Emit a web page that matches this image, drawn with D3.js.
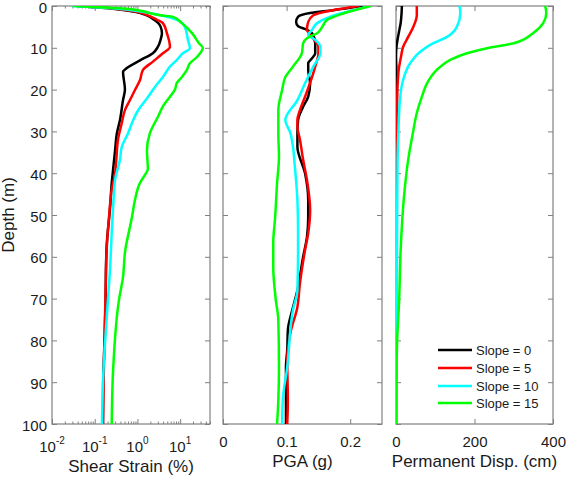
<!DOCTYPE html>
<html><head><meta charset="utf-8">
<script src="https://cdn.jsdelivr.net/npm/d3@7"></script>
<style>
body{margin:0;background:#fff}
text{font-family:"Liberation Sans",Arial,Helvetica,sans-serif;fill:#1a1a1a}
</style>
</head><body>
<svg id="chart" width="567" height="477"></svg>
<script>
// ---------------- DATA ----------------
const seriesNames = ["Slope = 0", "Slope = 5", "Slope = 10", "Slope = 15"];
const depthTicks = [0, 10, 20, 30, 40, 50, 60, 70, 80, 90, 100];
const strainTicks = [0.01, 0.1, 1, 10];
const strainTickExp = ["-2", "-1", "0", "1"];
const pgaTicks = [0, 0.1, 0.2];
const pgaTickLabels = ["0", "0.1", "0.2"];
const dispTicks = [0, 200, 400];
const dispTickLabels = ["0", "200", "400"];

// Shear strain (%) : [depth (m), strain]
const strainSlope0 = [[0,0.04],[0.7,0.3],[1.5,1.0],[2.2,1.6],[3.2,2.4],[4,3.0],[5,3.5],[6.5,3.75],[8,3.5],[9.8,3.0],[11.3,2.3],[13,1.15],[15.2,0.51],[15.7,0.46],[20,0.51],[22.5,0.46],[27.3,0.39],[30.5,0.33],[34.5,0.30],[39,0.27],[42.4,0.25],[48,0.23],[57.6,0.19],[61,0.185],[70,0.18],[80,0.17],[90,0.158],[100,0.156]];
const strainSlope5 = [[0,0.045],[0.7,0.35],[1.5,1.1],[2.2,1.7],[3.3,2.86],[4.1,3.95],[6.5,4.9],[9.8,5.77],[11.3,3.95],[13.3,2.31],[15.3,1.35],[17.7,1.15],[20.1,0.875],[22.5,0.668],[24.9,0.51],[28,0.43],[32,0.35],[36.8,0.32],[40,0.30],[44,0.25],[50.5,0.216],[58.4,0.19],[68,0.18],[84.7,0.165],[100,0.156]];
const strainSlope10 = [[0,0.03],[0.6,0.3],[1.4,1.3],[2.2,3.5],[3.3,8.4],[5,12.9],[8.1,15.2],[10.1,16.9],[11.3,11.6],[12.9,8.4],[14.5,5.77],[17,3.95],[19.3,2.6],[22,1.7],[25,1.03],[27.5,0.78],[30.5,0.6],[33.7,0.43],[36.8,0.39],[41.6,0.30],[48,0.27],[54.3,0.25],[62.4,0.23],[70.3,0.204],[90,0.156],[100,0.148]];
const strainSlope15 = [[0,0.032],[0.5,0.33],[1.2,1.3],[1.7,1.96],[2.2,3.37],[2.6,6.8],[4.1,11],[6.5,19],[8.9,27.5],[10,34],[12.2,24.7],[13.7,16.9],[15.3,14.4],[17,11.0],[18.4,8.4],[20,7.55],[21.7,5.77],[24,3.95],[26.5,3.02],[30.4,1.96],[34.5,1.67],[39,1.76],[40.4,1.5],[42.3,1.15],[46.4,0.875],[50.5,0.745],[59,0.51],[64.8,0.46],[70.3,0.37],[87,0.27],[100,0.25]];

// PGA (g) : [depth (m), pga]
const pgaSlope0 = [[0,0.219],[1,0.173],[1.7,0.137],[2.6,0.118],[3.8,0.115],[4.8,0.118],[5.7,0.132],[6.5,0.140],[8.9,0.145],[11.3,0.145],[12.5,0.140],[13.7,0.134],[15.3,0.134],[18.5,0.137],[21.7,0.134],[24.1,0.126],[27.3,0.118],[30.4,0.117],[33.7,0.117],[40,0.129],[46.4,0.134],[50.5,0.134],[55.3,0.132],[60,0.126],[68,0.117],[72.7,0.109],[77.5,0.102],[82.3,0.101],[86.4,0.099],[100,0.099]];
const pgaSlope5 = [[0,0.213],[1,0.173],[2.2,0.142],[3.8,0.134],[5.7,0.132],[6.9,0.137],[9.8,0.150],[11.3,0.150],[14.5,0.145],[17,0.140],[21.7,0.129],[24.9,0.121],[27.3,0.117],[28.9,0.117],[32,0.121],[36.8,0.126],[41.6,0.132],[48.8,0.137],[54.3,0.134],[58.4,0.129],[66.3,0.121],[72,0.117],[78.2,0.106],[84.7,0.101],[94.3,0.102],[100,0.101]];
const pgaSlope10 = [[0,0.231],[1.4,0.195],[2.6,0.168],[4.1,0.148],[5.7,0.140],[6.9,0.134],[8.1,0.145],[9.8,0.153],[11.3,0.153],[14.5,0.142],[18.5,0.129],[22.5,0.117],[27.3,0.098],[30.4,0.106],[33.7,0.110],[38.5,0.113],[46.4,0.117],[53.6,0.118],[58.4,0.118],[68,0.117],[72.7,0.110],[86.4,0.101],[94.3,0.094],[100,0.093]];
const pgaSlope15 = [[0,0.232],[1.8,0.189],[3.3,0.164],[5,0.156],[6.5,0.148],[7.7,0.132],[8.9,0.126],[11.3,0.124],[14.5,0.110],[17,0.098],[20.1,0.093],[24.9,0.087],[30.4,0.087],[36,0.088],[42.4,0.085],[50.5,0.082],[56.7,0.079],[62.4,0.079],[70.3,0.083],[75.1,0.087],[86.4,0.088],[94.3,0.087],[100,0.085]];

// Permanent displacement (cm) : [depth (m), disp]
const dispSlope0 = [[0,15],[2,14],[4,12],[6,8],[8,4],[10,1],[12,0],[15,1],[20,2],[30,1.5],[50,0.5],[100,0]];
const dispSlope5 = [[0,53],[2.2,53],[5,44],[7.4,31],[9.8,18],[12,13],[16,6],[22.5,3],[40,1.5],[70,0.5],[100,0]];
const dispSlope10 = [[0,162],[1.7,164],[5,155],[7.4,130],[8.9,95],[11,61],[13.7,36],[17.7,18],[22.5,10],[30.4,6],[36.8,4],[50,3],[70,2],[100,0.5]];
const dispSlope15 = [[0,380],[1.7,383],[4.1,375],[6.5,349],[8.9,300],[10.1,232],[11.3,181],[12.9,138],[15.3,104],[18.5,79],[21.7,66],[25.6,53],[30.4,43],[36.8,31],[46,20],[58,12],[70.3,8],[80,3],[89.5,1],[100,0]];

// ---------------- STYLE / LAYOUT ----------------
const seriesColors = ["#000000", "#ff0000", "#00ffff", "#00ff00"];
const axisColor = "#808080";
const plotTop = 6, plotBottom = 424;

const svg = d3.select("#chart");
const y = d3.scaleLinear().domain([0, 100]).range([plotTop, plotBottom]);

const panels = [
  { key: "strain", x: d3.scaleLog().domain([0.01, 50]).range([52, 210]),
    series: [strainSlope0, strainSlope5, strainSlope10, strainSlope15],
    label: "Shear Strain (%)", labelY: 472, log: true },
  { key: "pga", x: d3.scaleLinear().domain([0, 0.25]).range([223, 382]),
    series: [pgaSlope0, pgaSlope5, pgaSlope10, pgaSlope15],
    ticks: pgaTicks, tickLabels: pgaTickLabels, label: "PGA (g)", labelY: 467 },
  { key: "disp", x: d3.scaleLinear().domain([0, 400]).range([396, 553]),
    series: [dispSlope0, dispSlope5, dispSlope10, dispSlope15],
    ticks: dispTicks, tickLabels: dispTickLabels, label: "Permanent Disp. (cm)", labelY: 467 }
];

panels.forEach((p, pi) => {
  const [x0, x1] = p.x.range();
  const g = svg.append("g");

  svg.append("clipPath").attr("id", "clip-" + p.key)
    .append("rect").attr("x", x0).attr("y", plotTop).attr("width", x1 - x0).attr("height", plotBottom - plotTop);

  const yl = g.append("g").attr("transform", `translate(${x0},0)`)
    .call(d3.axisLeft(y).tickValues(depthTicks).tickSizeInner(-5).tickSizeOuter(0).tickPadding(5)
      .tickFormat(pi === 0 ? d3.format("d") : () => ""));
  const yr = g.append("g").attr("transform", `translate(${x1},0)`)
    .call(d3.axisRight(y).tickValues(depthTicks).tickSizeInner(-5).tickSizeOuter(0).tickFormat(() => ""));
  [yl, yr].forEach(a => {
    a.select(".domain").remove();
    a.selectAll("line").attr("stroke", axisColor);
    a.selectAll("text").attr("font-size", 15).attr("fill", "#1a1a1a").attr("dy", "0.4em");
  });

  if (p.log) {
    const minor = [];
    [-2, -1, 0, 1].forEach(e => { for (let k = 2; k <= 9; k++) { const v = k * Math.pow(10, e); if (v <= 50) minor.push(v); } });
    const xb = g.append("g").attr("transform", `translate(0,${plotBottom})`)
      .call(d3.axisBottom(p.x).tickValues(strainTicks).tickSizeInner(-5).tickSizeOuter(0).tickFormat(() => ""));
    const xt = g.append("g").attr("transform", `translate(0,${plotTop})`)
      .call(d3.axisTop(p.x).tickValues(strainTicks).tickSizeInner(-5).tickSizeOuter(0).tickFormat(() => ""));
    const xbm = g.append("g").attr("transform", `translate(0,${plotBottom})`)
      .call(d3.axisBottom(p.x).tickValues(minor).tickSizeInner(-2.5).tickSizeOuter(0).tickFormat(() => ""));
    const xtm = g.append("g").attr("transform", `translate(0,${plotTop})`)
      .call(d3.axisTop(p.x).tickValues(minor).tickSizeInner(-2.5).tickSizeOuter(0).tickFormat(() => ""));
    [xb, xt, xbm, xtm].forEach(a => { a.select(".domain").remove(); a.selectAll("line").attr("stroke", axisColor); });
    strainTicks.forEach((t, i) => {
      const tx = svg.append("text").attr("x", p.x(t)).attr("y", 452).attr("text-anchor", "middle");
      tx.append("tspan").attr("font-size", 15).text("10");
      tx.append("tspan").attr("font-size", 10).attr("dy", -8).text(strainTickExp[i]);
    });
  } else {
    const fmt = v => p.tickLabels[p.ticks.indexOf(v)];
    const xb = g.append("g").attr("transform", `translate(0,${plotBottom})`)
      .call(d3.axisBottom(p.x).tickValues(p.ticks).tickSizeInner(-5).tickSizeOuter(0).tickPadding(12).tickFormat(fmt));
    const xt = g.append("g").attr("transform", `translate(0,${plotTop})`)
      .call(d3.axisTop(p.x).tickValues(p.ticks).tickSizeInner(-5).tickSizeOuter(0).tickFormat(() => ""));
    [xb, xt].forEach(a => {
      a.select(".domain").remove();
      a.selectAll("line").attr("stroke", axisColor);
      a.selectAll("text").attr("font-size", 15).attr("fill", "#1a1a1a");
    });
  }

  g.append("rect").attr("x", x0).attr("y", plotTop).attr("width", x1 - x0).attr("height", plotBottom - plotTop)
    .attr("fill", "none").attr("stroke", axisColor).attr("stroke-width", 1.2);

  const line = d3.line().x(d => p.x(d[1])).y(d => y(d[0])).curve(d3.curveMonotoneY);
  const lg = svg.append("g").attr("clip-path", `url(#clip-${p.key})`);
  p.series.forEach((s, i) => {
    lg.append("path").datum(s).attr("d", line)
      .attr("fill", "none").attr("stroke", seriesColors[i]).attr("stroke-width", 2.5)
      .attr("stroke-linejoin", "round").attr("stroke-linecap", "round");
  });

  svg.append("text").attr("x", (x0 + x1) / 2).attr("y", p.labelY).attr("text-anchor", "middle")
    .attr("font-size", 17).text(p.label);
});

svg.append("text").attr("transform", `translate(14,${(plotTop + plotBottom) / 2}) rotate(-90)`)
  .attr("text-anchor", "middle").attr("font-size", 17).text("Depth (m)");

const legRows = [350, 368, 386, 403];
seriesNames.forEach((n, i) => {
  svg.append("line").attr("x1", 438).attr("x2", 472).attr("y1", legRows[i]).attr("y2", legRows[i])
    .attr("stroke", seriesColors[i]).attr("stroke-width", 2.5);
  svg.append("text").attr("x", 476).attr("y", legRows[i]).attr("dy", "0.36em")
    .attr("font-size", 13).text(n);
});
</script>
</body></html>
